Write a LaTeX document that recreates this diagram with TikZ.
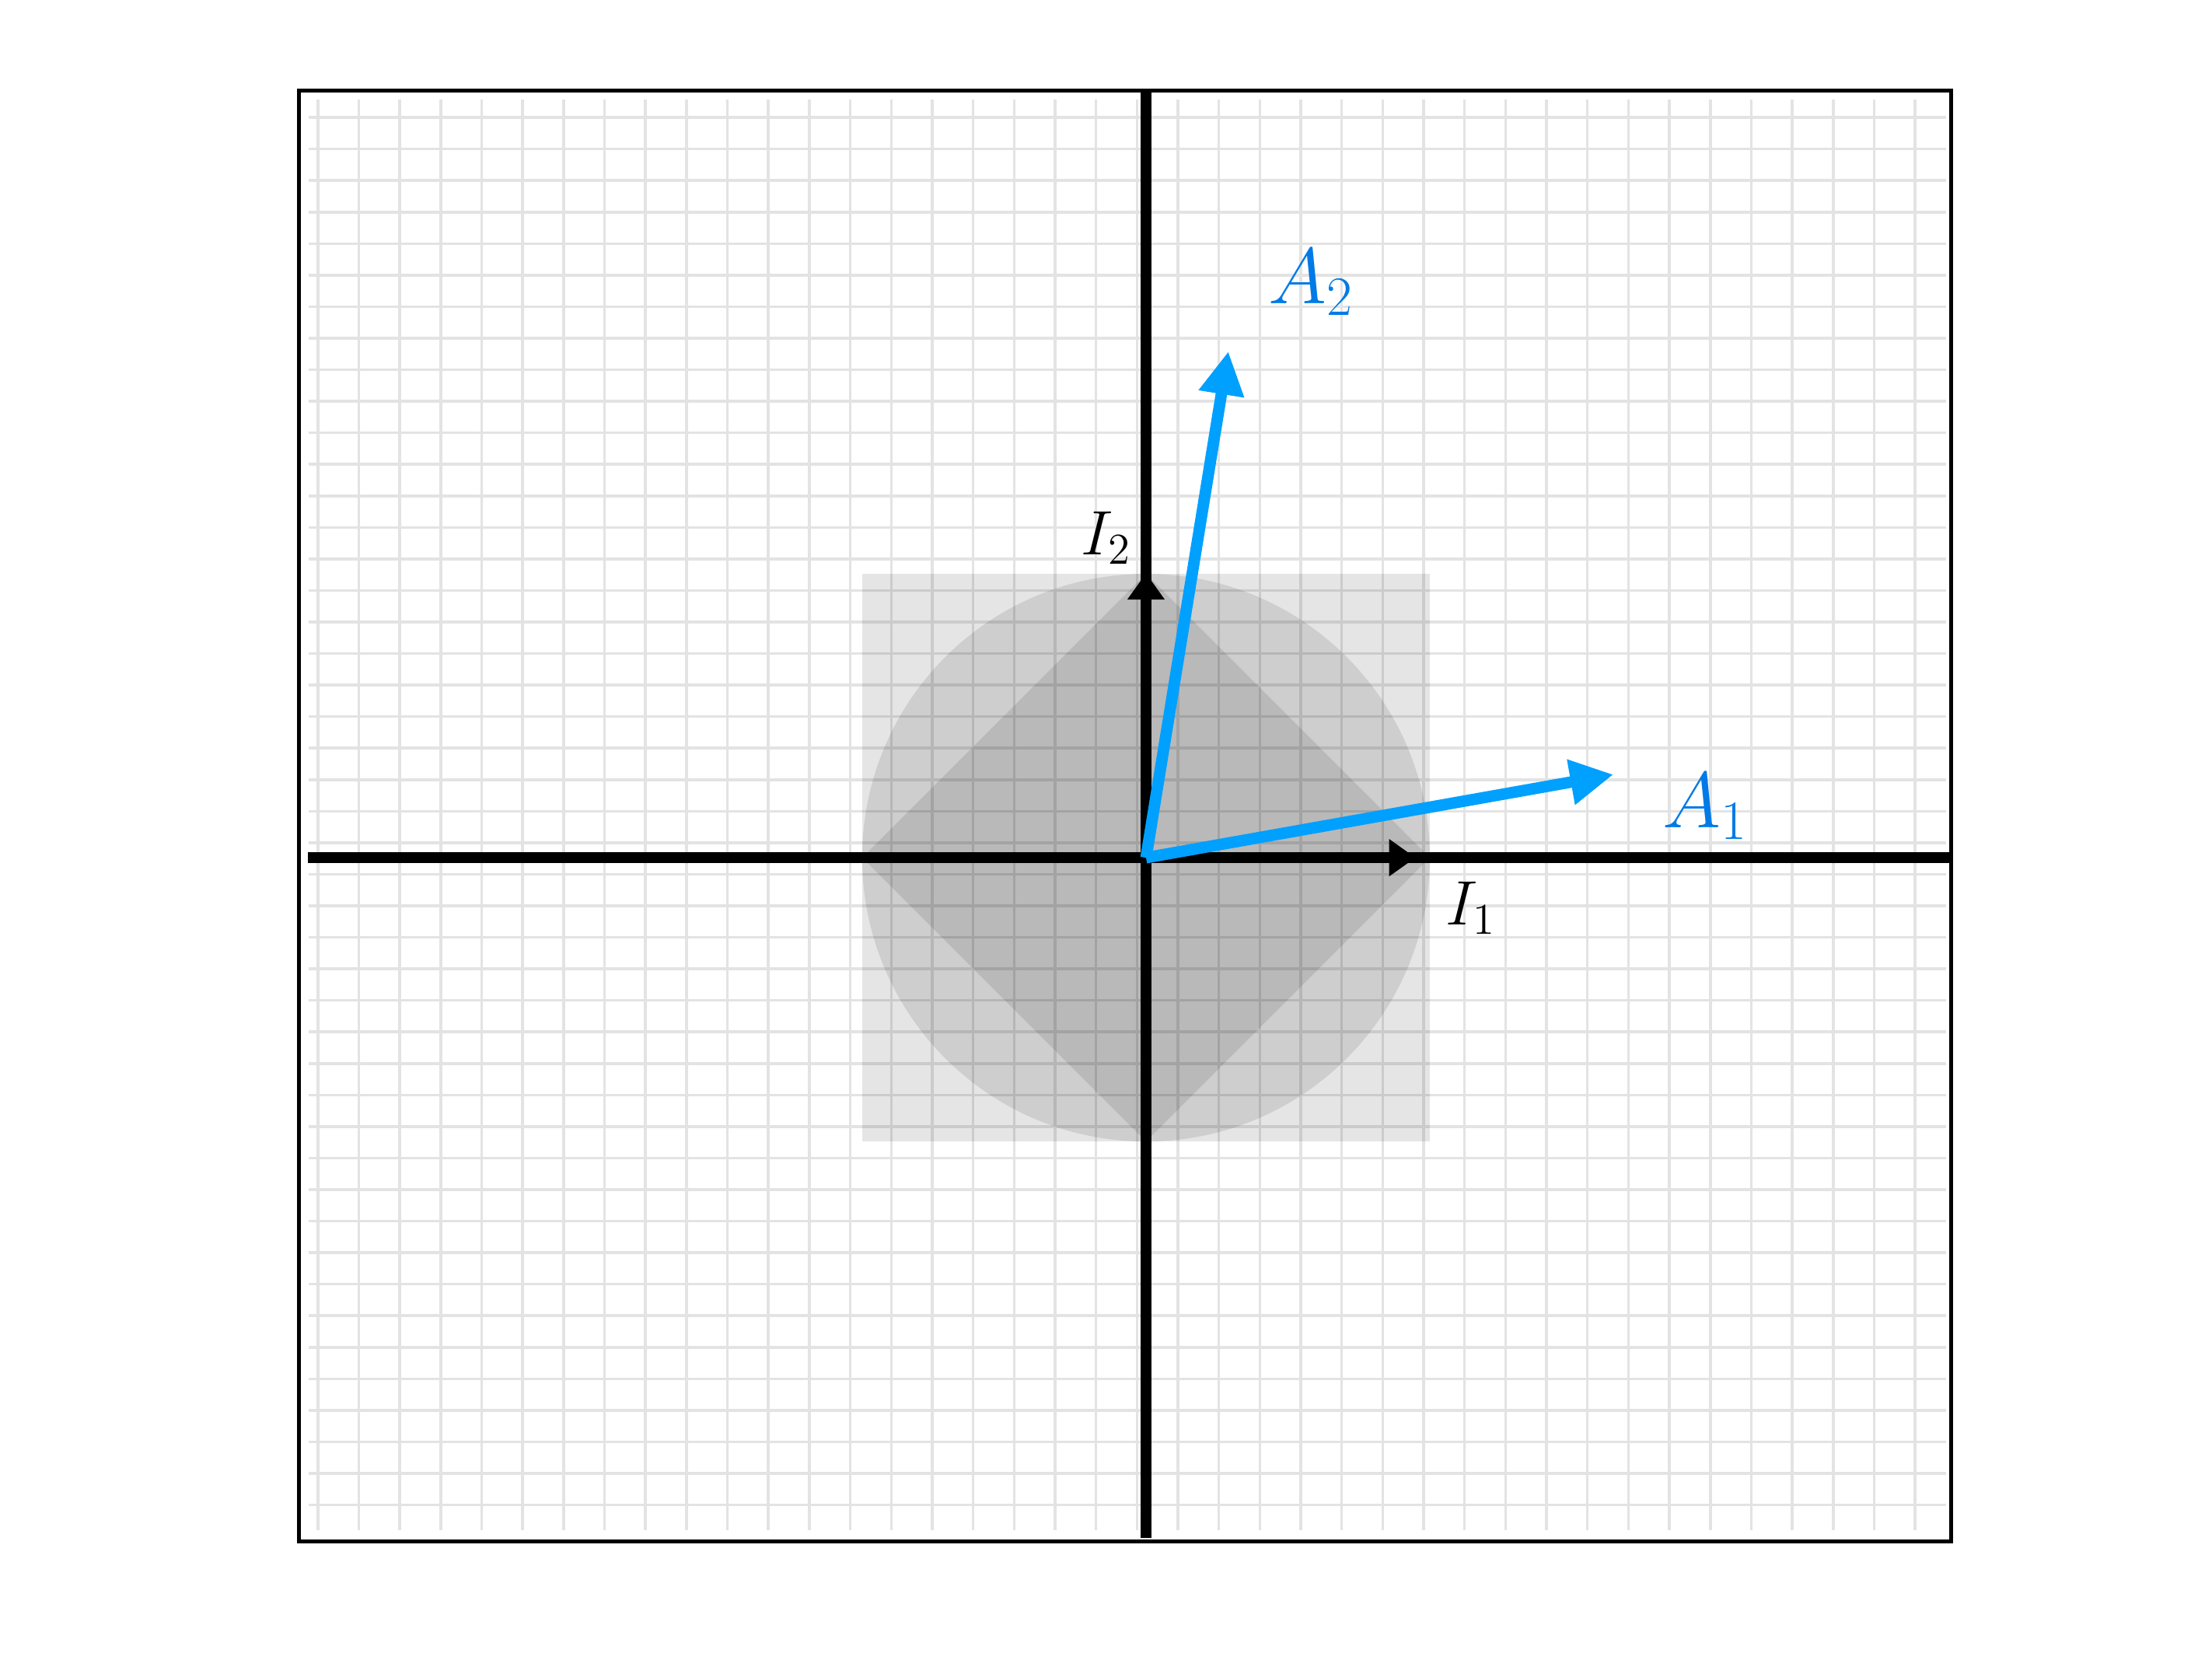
\RequirePackage{fix-cm}
\documentclass[tikz,border=0pt]{standalone}
\usepackage{amsmath}
\usepackage{tikz}
\usetikzlibrary{
  arrows.meta,
  calc
}
\definecolor{vecblue}{RGB}{0, 160, 255}
\definecolor{labelblue}{RGB}{0, 122, 230}
\tikzset{
  gridline/.style={draw=black!11, line width=1pt},
  region/.style={fill=black, fill opacity=0.1},
  axisline/.style={line width=4pt, black},
  basisvec/.style={-{Triangle[length=9.7pt, width=13pt]}, line width=4pt, black},
  imagevec/.style={-{Triangle[length=15.8pt, width=15.8pt]}, line width=4.2pt, vecblue},
  ilabel/.style={font=\fontsize{23}{28}\selectfont, text=black, inner sep=0pt},
  alabel/.style={font=\fontsize{29}{34}\selectfont, text=labelblue, inner sep=0pt}
}

\begin{document}
\begin{tikzpicture}[
  x=3.65cm, y=3.65cm,
  frame/.style={line width=1.4pt, black}
]
\useasboundingbox (-4.038,-2.825) rectangle (3.756,3.022);

% points
\coordinate (O) at (0,0);
\coordinate (e1) at (0.95,0);
\coordinate (e2) at (0,1.003);
\coordinate (a1) at (1.647,0.293);
\coordinate (a2) at (0.29,1.784);

% grid
\foreach \i in {0,...,39}
  \draw[gridline] ({-2.918+0.1443*\i},-2.37) -- ({-2.918+0.1443*\i},2.67);
\foreach \j in {0,...,44}
  \draw[gridline] (-2.95,{2.608-0.1111*\j}) -- (2.82,{2.608-0.1111*\j});

% unit balls
\fill[region] (-1,-1) rectangle (1,1);
\fill[region] (O) circle (1);
\fill[region] (1,0) -- (0,1) -- (-1,0) -- (0,-1) -- cycle;

% axes
\draw[axisline] (-2.953,0) -- (2.836,0);
\draw[axisline] (0,-2.397) -- (0,2.704);

% basis vectors
\draw[basisvec] (O) -- (e1);
\draw[basisvec] (O) -- (e2);

% images of the basis vectors
\draw[imagevec] (O) -- (a1);
\draw[imagevec] (O) -- (a2);

% labels
\node[ilabel] (lblI1) at ($(e1)+(0.195,-0.178)$) {$I_1$};
\node[ilabel] (lblI2) at ($(e2)+(-0.14,0.123)$) {$I_2$};
\node[alabel] (lblA1) at ($(a1)+(0.323,-0.112)$) {$A_1$};
\node[alabel] (lblA2) at ($(a2)+(0.291,0.243)$) {$A_2$};

% frame
\draw[frame] (-2.984,-2.408) rectangle (2.836,2.704);

\end{tikzpicture}
\end{document}
